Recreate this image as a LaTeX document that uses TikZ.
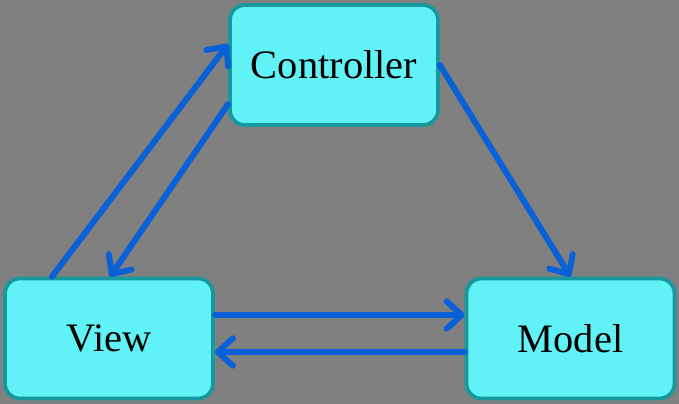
\documentclass[tikz,border=0pt]{standalone}
\usepackage{fontspec}
\setmainfont{Liberation Serif}
\usetikzlibrary{arrows.meta,calc}
\definecolor{mBack}{RGB}{128,128,128}
\definecolor{mFill}{RGB}{96,242,246}
\definecolor{mEdge}{RGB}{22,152,158}
\definecolor{mBlue}{RGB}{10,96,214}

\begin{document}
\begin{tikzpicture}[
  x=0.02cm,
  y=0.02cm,
  every node/.style={font=\fontsize{23}{28}\selectfont},
  mvcbox/.style={
    draw=mEdge,
    line width=2.1pt,
    fill=mFill,
    rounded corners=0.3cm,
    minimum width=4.16cm,
    minimum height=2.4cm,
    inner sep=0pt
  },
  link/.style={draw=mBlue, line width=3.4pt, line cap=round,
    -{Straight Barb[length=3mm,width=5.5mm,round]}}
]
  \fill[mBack] (0,0) rectangle (679,404);
  \useasboundingbox (0,0) rectangle (679,404);

  \node[mvcbox] (ctrl) at (334,339) {Controller};
  \node[mvcbox] (view) at (109,65.5) {View};
  \node[mvcbox] (model) at (570.5,65.5) {Model};

  \draw[link] ($(view.north)+(-57,0)$) -- ($(ctrl.west)+(0,21)$);
  \draw[link] ($(ctrl.west)+(0,-39)$) -- ($(view.north)+(1,0)$);
  \draw[link] (ctrl.east) -- (model.north);
  \draw[link] ($(view.east)+(0,23.5)$) -- ($(model.west)+(0,23.5)$);
  \draw[link] ($(model.west)+(0,-13.5)$) -- ($(view.east)+(0,-13.5)$);
\end{tikzpicture}
\end{document}
